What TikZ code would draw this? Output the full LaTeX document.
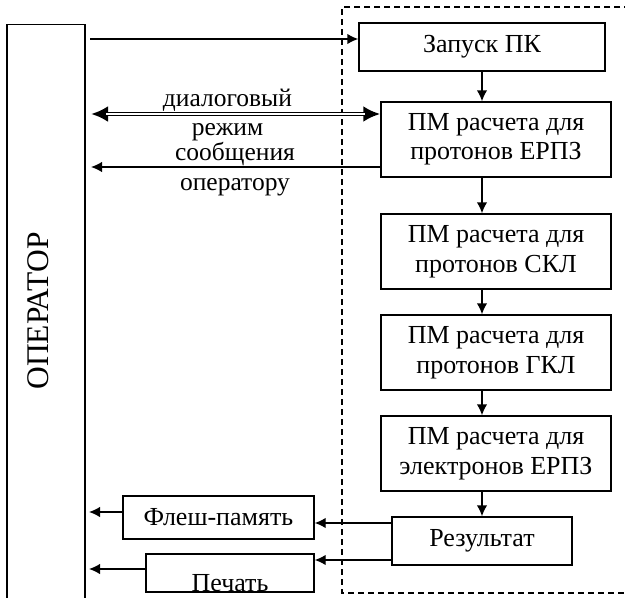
\documentclass[tikz,border=0pt]{standalone}
\usepackage{fontspec}
\setmainfont{Liberation Serif}
\usetikzlibrary{arrows.meta}
\begin{document}
\begin{tikzpicture}[x=1pt,y=-1pt, line width=1.4pt,
  box/.style={draw, line width=1.4pt, inner sep=0pt, align=center, font=\fontsize{26}{29.5}\selectfont},
  lbl/.style={font=\fontsize{25.5}{29}\selectfont, anchor=base, inner sep=0pt},
  arr/.style={-{Latex[length=11pt,width=10.5pt]}},
  bigtip/.style={{Latex[length=17pt,width=16pt]}-{Latex[length=17pt,width=16pt]}},
  frame/.style={dash pattern=on 6pt off 4pt, line width=1.2pt}
  ]
\useasboundingbox (0,0) rectangle (625,598);
% operator column
\coordinate (obl) at (7,600);
\coordinate (otl) at (7,24.5);
\coordinate (otr) at (85,24.5);
\coordinate (obr) at (85,600);
\draw (obl) -- (otl) -- (otr) -- (obr);
\node[rotate=90, inner sep=0pt, font=\fontsize{31.5}{31.5}\selectfont] (op) at (38.5,311) {ОПЕРАТОР};
% dashed frame
\coordinate (dbl) at (342,593);
\coordinate (dtl) at (342,7);
\coordinate (dtr) at (630,7);
\coordinate (dbr) at (630,593);
\draw[frame] (dtr) -- (dtl) -- (dbl) -- (dbr);
% boxes
\node[box, minimum width=246pt, minimum height=48pt] (zap) at (482,47) {Запуск ПК};
\node[box, minimum width=230pt, minimum height=75pt] (p1) at (496,139.5) {ПМ расчета для\\протонов ЕРПЗ};
\node[box, minimum width=230pt, minimum height=75pt] (p2) at (496,251.5) {ПМ расчета для\\протонов СКЛ};
\node[box, minimum width=230pt, minimum height=75pt] (p3) at (496,352.5) {ПМ расчета для\\протонов ГКЛ};
\node[box, minimum width=230pt, minimum height=75pt] (p4) at (496,453.5) {ПМ расчета для\\электронов ЕРПЗ};
\node[box, minimum width=180pt, minimum height=48pt] (res) at (482,541) {Результат};
\node[box, minimum width=191pt, minimum height=43pt] (flash) at (218.5,517.5) {Флеш-память};
\node[box, minimum width=168pt, minimum height=38pt] (print) at (230,573) {};
\node[lbl, font=\fontsize{26}{29.5}\selectfont] (printlbl) at (230,591) {Печать};
% vertical flow
\coordinate (vx) at (482,0);
\draw[arr] (zap.south) -- (vx |- p1.north);
\draw[arr] (vx |- p1.south) -- (vx |- p2.north);
\draw[arr] (vx |- p2.south) -- (vx |- p3.north);
\draw[arr] (vx |- p3.south) -- (vx |- p4.north);
\draw[arr] (vx |- p4.south) -- (res.north);
% operator -> start
\coordinate (a0) at (90,39);
\draw[arr] (a0) -- (a0 -| zap.west);
% dialog (double line)
\coordinate (d0) at (91,114);
\draw[bigtip, line width=4.4pt] (d0) -- (d0 -| p1.west);
\draw[white, line width=1.4pt, shorten <=15pt, shorten >=15pt] (d0) -- (d0 -| p1.west);
\node[lbl] (l1) at (227.5,106) {диалоговый};
\node[lbl] (l2) at (227.5,135) {режим};
% messages
\coordinate (m0) at (91,167);
\draw[arr] (m0 -| p1.west) -- (m0);
\node[lbl] (l3) at (235,160) {сообщения};
\node[lbl] (l4) at (235,190) {оператору};
% results
\coordinate (r1) at (0,523);
\draw[arr] (r1 -| res.west) -- (r1 -| flash.east);
\coordinate (r2) at (0,560);
\draw[arr] (r2 -| res.west) -- (r2 -| print.east);
\coordinate (f1) at (89,512);
\draw[arr] (f1 -| flash.west) -- (f1);
\coordinate (f2) at (89,569);
\draw[arr] (f2 -| print.west) -- (f2);
\end{tikzpicture}
\end{document}
